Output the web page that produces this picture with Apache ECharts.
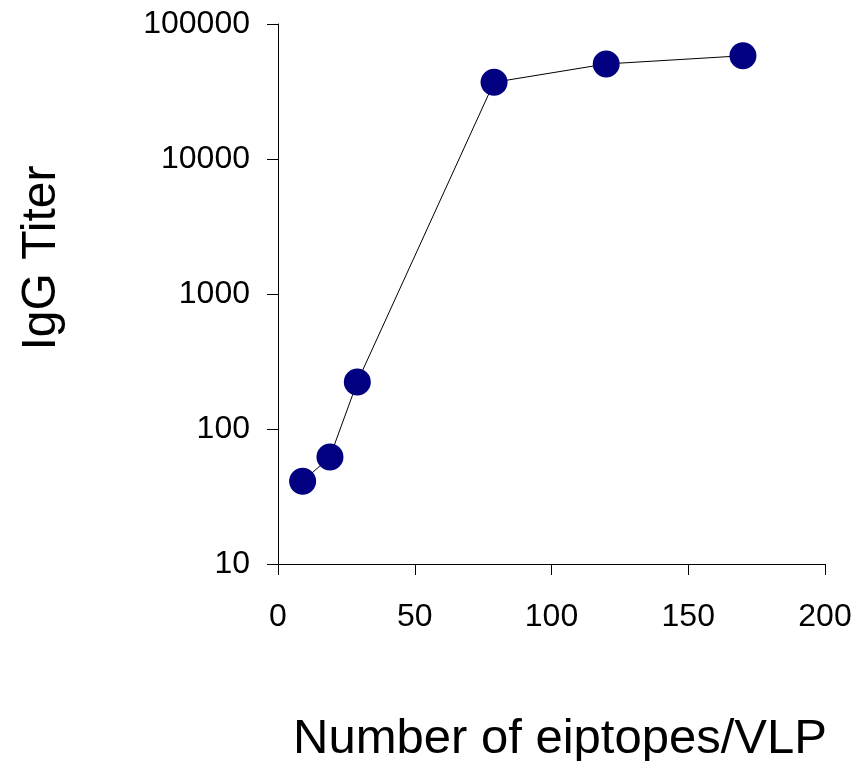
<!DOCTYPE html>
<html>
<head>
<meta charset="utf-8">
<script src="https://cdn.jsdelivr.net/npm/echarts@6/dist/echarts.min.js"></script>
<style>
html,body{margin:0;padding:0;background:#fff;}
#chart{width:858px;height:761px;}
</style>
</head>
<body>
<div id="chart"></div>
<script>
const epitopes = [9, 19, 29, 79, 120, 170];
const iggTiter = [41, 62, 223, 37000, 50600, 58200];
const xTicks = [0, 50, 100, 150, 200];
const yTicks = [10, 100, 1000, 10000, 100000];
const xTitle = 'Number of eiptopes/VLP';
const yTitle = 'IgG Titer';

const chart = echarts.init(document.getElementById('chart'), null, {renderer: 'canvas'});
const font = 'Liberation Sans, Arial, sans-serif';
chart.setOption({
  animation: false,
  backgroundColor: '#ffffff',
  grid: {left: 278, right: 33, top: 24, bottom: 197, containLabel: false, outerBoundsMode: 'none'},
  xAxis: {
    type: 'value',
    min: xTicks[0], max: xTicks[xTicks.length - 1], interval: 50,
    axisLine: {show: true, onZero: false, lineStyle: {color: '#000', width: 1}},
    axisTick: {show: true, inside: false, length: 11, lineStyle: {color: '#000', width: 1}},
    axisLabel: {fontFamily: font, fontSize: 32, color: '#000', margin: 37, formatter: v => String(v)},
    splitLine: {show: false}
  },
  yAxis: {
    type: 'log', logBase: 10,
    min: yTicks[0], max: yTicks[yTicks.length - 1],
    axisLine: {show: true, lineStyle: {color: '#000', width: 1}},
    axisTick: {show: true, inside: false, length: 11, lineStyle: {color: '#000', width: 1}},
    axisLabel: {fontFamily: font, fontSize: 32, color: '#000', margin: 28, formatter: v => String(Math.round(v))},
    minorTick: {show: false},
    splitLine: {show: false}
  },
  graphic: [
    {type: 'text', x: 560, y: 739,
     style: {text: xTitle, font: '49px "Liberation Sans", Arial, sans-serif', fill: '#000', textAlign: 'center', textVerticalAlign: 'middle'}},
    {type: 'text', x: 42, y: 258, rotation: Math.PI / 2,
     style: {text: yTitle, font: '48px "Liberation Sans", Arial, sans-serif', fill: '#000', textAlign: 'center', textVerticalAlign: 'middle'}}
  ],
  series: [{
    type: 'line',
    data: epitopes.map((x, i) => [x, iggTiter[i]]),
    symbol: 'circle',
    symbolSize: 27,
    lineStyle: {color: '#000', width: 1},
    itemStyle: {color: '#000080', borderWidth: 0},
    z: 3
  }]
});
</script>
</body>
</html>
